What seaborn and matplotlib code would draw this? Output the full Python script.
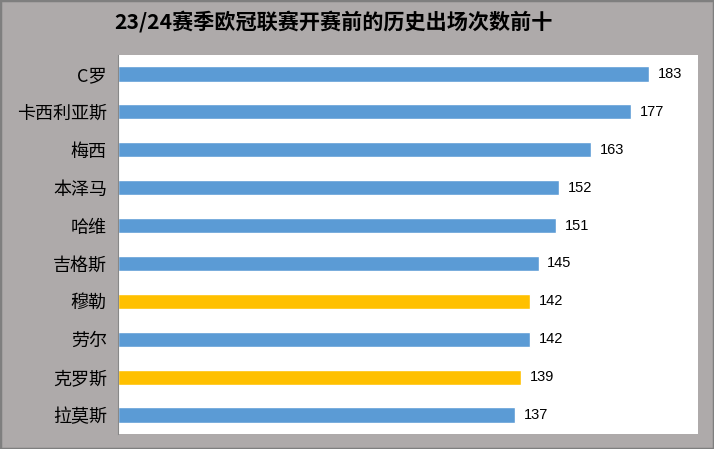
import matplotlib
matplotlib.use("Agg")
import matplotlib.pyplot as plt
import seaborn as sns
import pandas as pd
from matplotlib.patches import Rectangle

players = ["C罗", "卡西利亚斯", "梅西", "本泽马", "哈维", "吉格斯", "穆勒", "劳尔", "克罗斯", "拉莫斯"]
appearances = [183, 177, 163, 152, 151, 145, 142, 142, 139, 137]
highlight = [False, False, False, False, False, False, True, False, True, False]
title = "23/24赛季欧冠联赛开赛前的历史出场次数前十"

BLUE = "#5B9BD5"
YELLOW = "#FFC000"
BG = "#AEAAAA"

sns.set_theme(style="white")
plt.rcParams['font.family'] = ['Noto Sans CJK SC', 'DejaVu Sans']

df = pd.DataFrame({"player": players, "n": appearances})
palette = {p: (YELLOW if h else BLUE) for p, h in zip(players, highlight)}

W, H = 714, 449
fig = plt.figure(figsize=(W / 100, H / 100), dpi=100, facecolor=BG)
ax = fig.add_axes([118 / W, (H - 434) / H, (698 - 118) / W, (434 - 55) / H])
ax.set_facecolor("white")

sns.barplot(data=df, x="n", y="player", hue="player", palette=palette,
            legend=False, width=0.40, orient="h", ax=ax, saturation=1)

ax.set_xlim(0, 200)
ax.set_xlabel("")
ax.set_ylabel("")
ax.set_xticks([])
for s in ["top", "right", "bottom"]:
    ax.spines[s].set_visible(False)
ax.spines["left"].set_color("#888888")
ax.spines["left"].set_linewidth(0.8)
ax.tick_params(axis="y", length=0, pad=8, labelsize=13, labelcolor="black")

for i, v in enumerate(appearances):
    ax.text(v + 3, i, str(v), va="center", ha="left", fontsize=10.5,
            family=["Liberation Sans", "DejaVu Sans"], color="black")

fig.text(333 / W, 1 - 22 / H, title, ha="center", va="center",
         fontsize=15.2, fontweight="bold", color="black")

fig.patches.append(Rectangle((0, 0), 1, 1, transform=fig.transFigure,
                             fill=False, edgecolor="#7F7F7F", linewidth=2.5))

fig.savefig("out.png", dpi=100, facecolor=BG)
